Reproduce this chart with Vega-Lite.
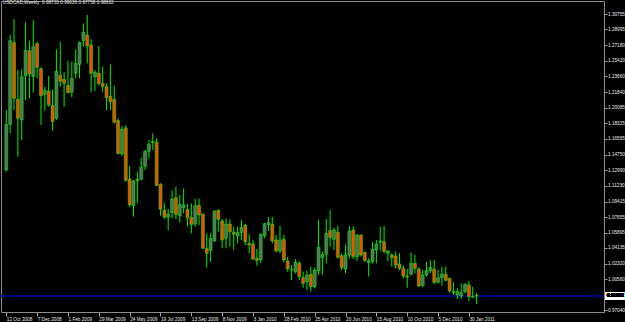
{
  "$schema": "https://vega.github.io/schema/vega-lite/v6.json",
  "width": 603,
  "height": 311,
  "autosize": {"type": "none"},
  "padding": {"left": 1, "top": 1, "right": 21, "bottom": 10},
  "background": "black",
  "config": {
    "view": {"stroke": "#8c8c8c", "strokeWidth": 1, "fill": "black"},
    "axis": {"grid": false, "domain": false, "labelFont": "Liberation Sans", "labelFontSize": 4.7, "labelColor": "#e8e8e8", "tickColor": "#a0a0a0", "labelOverlap": false, "labelFlush": false, "labelBound": false}
  },
  "title": {"text": "USDCAD,Weekly\u00a0 0.98733 0.99026 0.97758 0.98662", "anchor": "start", "frame": "group", "orient": "top", "baseline": "top", "offset": -4, "dx": 2, "fontSize": 4.7, "font": "Liberation Sans", "fontWeight": "normal", "color": "#e8e8e8"},
  "data": {"values": [
    {"d":"2008-10-12","o":1.1301,"h":1.1983,"l":1.1282,"c":1.1820},
    {"d":"2008-10-19","o":1.1820,"h":1.2837,"l":1.1718,"c":1.2772},
    {"d":"2008-10-26","o":1.2753,"h":1.3019,"l":1.1983,"c":1.2116},
    {"d":"2008-11-02","o":1.2105,"h":1.2438,"l":1.1452,"c":1.1889},
    {"d":"2008-11-09","o":1.1870,"h":1.2446,"l":1.1642,"c":1.2363},
    {"d":"2008-11-16","o":1.2374,"h":1.2981,"l":1.2097,"c":1.2662},
    {"d":"2008-11-23","o":1.2658,"h":1.2772,"l":1.2116,"c":1.2393},
    {"d":"2008-11-30","o":1.2363,"h":1.3007,"l":1.2181,"c":1.2704},
    {"d":"2008-12-07","o":1.2738,"h":1.2761,"l":1.2344,"c":1.2469},
    {"d":"2008-12-14","o":1.2454,"h":1.2469,"l":1.1813,"c":1.2146},
    {"d":"2008-12-21","o":1.2162,"h":1.2249,"l":1.1976,"c":1.2207},
    {"d":"2008-12-28","o":1.2200,"h":1.2370,"l":1.2021,"c":1.2040},
    {"d":"2009-01-04","o":1.2036,"h":1.2219,"l":1.1748,"c":1.1851},
    {"d":"2009-01-11","o":1.1889,"h":1.2674,"l":1.1870,"c":1.2423},
    {"d":"2009-01-18","o":1.2378,"h":1.2761,"l":1.2249,"c":1.2310},
    {"d":"2009-01-25","o":1.2332,"h":1.2412,"l":1.2021,"c":1.2287},
    {"d":"2009-02-01","o":1.2264,"h":1.2545,"l":1.2173,"c":1.2181},
    {"d":"2009-02-08","o":1.2184,"h":1.2533,"l":1.2127,"c":1.2344},
    {"d":"2009-02-15","o":1.2401,"h":1.2674,"l":1.2344,"c":1.2514},
    {"d":"2009-02-22","o":1.2503,"h":1.2761,"l":1.2344,"c":1.2753},
    {"d":"2009-03-01","o":1.2772,"h":1.2969,"l":1.2704,"c":1.2867},
    {"d":"2009-03-08","o":1.2837,"h":1.3064,"l":1.2514,"c":1.2711},
    {"d":"2009-03-15","o":1.2723,"h":1.2787,"l":1.2184,"c":1.2401},
    {"d":"2009-03-22","o":1.2363,"h":1.2438,"l":1.2200,"c":1.2412},
    {"d":"2009-03-29","o":1.2401,"h":1.2711,"l":1.2268,"c":1.2283},
    {"d":"2009-04-05","o":1.2287,"h":1.2476,"l":1.2192,"c":1.2253},
    {"d":"2009-04-12","o":1.2249,"h":1.2287,"l":1.1983,"c":1.2124},
    {"d":"2009-04-19","o":1.2139,"h":1.2503,"l":1.1983,"c":1.2078},
    {"d":"2009-04-26","o":1.2105,"h":1.2260,"l":1.1832,"c":1.1843},
    {"d":"2009-05-03","o":1.1862,"h":1.1889,"l":1.1483,"c":1.1487},
    {"d":"2009-05-10","o":1.1483,"h":1.1801,"l":1.1464,"c":1.1767},
    {"d":"2009-05-17","o":1.1779,"h":1.1813,"l":1.1168,"c":1.1183},
    {"d":"2009-05-24","o":1.1198,"h":1.1346,"l":1.0876,"c":1.0903},
    {"d":"2009-05-31","o":1.0895,"h":1.1187,"l":1.0770,"c":1.1176},
    {"d":"2009-06-07","o":1.1195,"h":1.1282,"l":1.0922,"c":1.1179},
    {"d":"2009-06-14","o":1.1195,"h":1.1441,"l":1.1187,"c":1.1331},
    {"d":"2009-06-21","o":1.1343,"h":1.1528,"l":1.1301,"c":1.1513},
    {"d":"2009-06-28","o":1.1513,"h":1.1642,"l":1.1434,"c":1.1593},
    {"d":"2009-07-05","o":1.1612,"h":1.1718,"l":1.1528,"c":1.1627},
    {"d":"2009-07-12","o":1.1616,"h":1.1661,"l":1.1119,"c":1.1123},
    {"d":"2009-07-19","o":1.1138,"h":1.1149,"l":1.0781,"c":1.0853},
    {"d":"2009-07-26","o":1.0846,"h":1.0922,"l":1.0740,"c":1.0765},
    {"d":"2009-08-02","o":1.0762,"h":1.0857,"l":1.0618,"c":1.0800},
    {"d":"2009-08-09","o":1.0815,"h":1.1069,"l":1.0751,"c":1.0971},
    {"d":"2009-08-16","o":1.0986,"h":1.1111,"l":1.0743,"c":1.0796},
    {"d":"2009-08-23","o":1.0781,"h":1.1016,"l":1.0705,"c":1.0910},
    {"d":"2009-08-30","o":1.0872,"h":1.1092,"l":1.0808,"c":1.0903},
    {"d":"2009-09-06","o":1.0853,"h":1.0914,"l":1.0656,"c":1.0759},
    {"d":"2009-09-13","o":1.0762,"h":1.0922,"l":1.0580,"c":1.0683},
    {"d":"2009-09-20","o":1.0686,"h":1.0971,"l":1.0656,"c":1.0895},
    {"d":"2009-09-27","o":1.0899,"h":1.0978,"l":1.0675,"c":1.0789},
    {"d":"2009-10-04","o":1.0796,"h":1.0808,"l":1.0402,"c":1.0410},
    {"d":"2009-10-11","o":1.0410,"h":1.0580,"l":1.0190,"c":1.0353},
    {"d":"2009-10-18","o":1.0383,"h":1.0580,"l":1.0258,"c":1.0523},
    {"d":"2009-10-25","o":1.0493,"h":1.0842,"l":1.0485,"c":1.0834},
    {"d":"2009-11-01","o":1.0842,"h":1.0853,"l":1.0599,"c":1.0740},
    {"d":"2009-11-08","o":1.0721,"h":1.0743,"l":1.0410,"c":1.0504},
    {"d":"2009-11-15","o":1.0523,"h":1.0751,"l":1.0410,"c":1.0686},
    {"d":"2009-11-22","o":1.0686,"h":1.0740,"l":1.0429,"c":1.0599},
    {"d":"2009-11-29","o":1.0592,"h":1.0656,"l":1.0391,"c":1.0569},
    {"d":"2009-12-06","o":1.0550,"h":1.0656,"l":1.0467,"c":1.0588},
    {"d":"2009-12-13","o":1.0592,"h":1.0732,"l":1.0504,"c":1.0649},
    {"d":"2009-12-20","o":1.0675,"h":1.0690,"l":1.0448,"c":1.0485},
    {"d":"2009-12-27","o":1.0467,"h":1.0569,"l":1.0353,"c":1.0448},
    {"d":"2010-01-03","o":1.0459,"h":1.0504,"l":1.0277,"c":1.0288},
    {"d":"2010-01-10","o":1.0296,"h":1.0402,"l":1.0212,"c":1.0273},
    {"d":"2010-01-17","o":1.0281,"h":1.0580,"l":1.0239,"c":1.0569},
    {"d":"2010-01-24","o":1.0554,"h":1.0698,"l":1.0523,"c":1.0690},
    {"d":"2010-01-31","o":1.0679,"h":1.0766,"l":1.0607,"c":1.0702},
    {"d":"2010-02-07","o":1.0683,"h":1.0766,"l":1.0467,"c":1.0493},
    {"d":"2010-02-14","o":1.0504,"h":1.0561,"l":1.0364,"c":1.0379},
    {"d":"2010-02-21","o":1.0379,"h":1.0668,"l":1.0353,"c":1.0504},
    {"d":"2010-02-28","o":1.0512,"h":1.0561,"l":1.0250,"c":1.0277},
    {"d":"2010-03-07","o":1.0266,"h":1.0315,"l":1.0144,"c":1.0175},
    {"d":"2010-03-14","o":1.0163,"h":1.0220,"l":1.0049,"c":1.0167},
    {"d":"2010-03-21","o":1.0144,"h":1.0288,"l":1.0125,"c":1.0250},
    {"d":"2010-03-28","o":1.0239,"h":1.0266,"l":1.0049,"c":1.0087},
    {"d":"2010-04-04","o":1.0076,"h":1.0144,"l":0.9962,"c":1.0011},
    {"d":"2010-04-11","o":1.0030,"h":1.0156,"l":0.9936,"c":1.0106},
    {"d":"2010-04-18","o":1.0114,"h":1.0201,"l":0.9917,"c":0.9974},
    {"d":"2010-04-25","o":0.9974,"h":1.0190,"l":0.9955,"c":1.0163},
    {"d":"2010-05-02","o":1.0152,"h":1.0732,"l":1.0106,"c":1.0421},
    {"d":"2010-05-09","o":1.0303,"h":1.0372,"l":1.0106,"c":1.0341},
    {"d":"2010-05-16","o":1.0341,"h":1.0743,"l":1.0239,"c":1.0580},
    {"d":"2010-05-23","o":1.0611,"h":1.0846,"l":1.0429,"c":1.0531},
    {"d":"2010-05-30","o":1.0512,"h":1.0645,"l":1.0391,"c":1.0618},
    {"d":"2010-06-06","o":1.0592,"h":1.0667,"l":1.0296,"c":1.0307},
    {"d":"2010-06-13","o":1.0326,"h":1.0353,"l":1.0163,"c":1.0190},
    {"d":"2010-06-20","o":1.0174,"h":1.0455,"l":1.0125,"c":1.0334},
    {"d":"2010-06-27","o":1.0334,"h":1.0664,"l":1.0296,"c":1.0607},
    {"d":"2010-07-04","o":1.0618,"h":1.0664,"l":1.0288,"c":1.0315},
    {"d":"2010-07-11","o":1.0315,"h":1.0569,"l":1.0265,"c":1.0561},
    {"d":"2010-07-18","o":1.0561,"h":1.0569,"l":1.0315,"c":1.0334},
    {"d":"2010-07-25","o":1.0364,"h":1.0372,"l":1.0258,"c":1.0269},
    {"d":"2010-08-01","o":1.0247,"h":1.0296,"l":1.0087,"c":1.0269},
    {"d":"2010-08-08","o":1.0258,"h":1.0485,"l":1.0239,"c":1.0398},
    {"d":"2010-08-15","o":1.0391,"h":1.0504,"l":1.0239,"c":1.0459},
    {"d":"2010-08-22","o":1.0478,"h":1.0656,"l":1.0379,"c":1.0493},
    {"d":"2010-08-29","o":1.0485,"h":1.0664,"l":1.0353,"c":1.0372},
    {"d":"2010-09-05","o":1.0353,"h":1.0391,"l":1.0265,"c":1.0379},
    {"d":"2010-09-12","o":1.0334,"h":1.0353,"l":1.0201,"c":1.0303},
    {"d":"2010-09-19","o":1.0322,"h":1.0372,"l":1.0182,"c":1.0220},
    {"d":"2010-09-26","o":1.0231,"h":1.0353,"l":1.0163,"c":1.0182},
    {"d":"2010-10-03","o":1.0182,"h":1.0212,"l":1.0068,"c":1.0095},
    {"d":"2010-10-10","o":1.0095,"h":1.0174,"l":0.9962,"c":1.0083},
    {"d":"2010-10-17","o":1.0114,"h":1.0364,"l":1.0099,"c":1.0239},
    {"d":"2010-10-24","o":1.0239,"h":1.0334,"l":1.0125,"c":1.0182},
    {"d":"2010-10-31","o":1.0174,"h":1.0190,"l":0.9970,"c":0.9981},
    {"d":"2010-11-07","o":0.9985,"h":1.0163,"l":0.9973,"c":1.0106},
    {"d":"2010-11-14","o":1.0106,"h":1.0258,"l":1.0087,"c":1.0156},
    {"d":"2010-11-21","o":1.0152,"h":1.0273,"l":1.0125,"c":1.0193},
    {"d":"2010-11-28","o":1.0174,"h":1.0277,"l":1.0000,"c":1.0023},
    {"d":"2010-12-05","o":1.0023,"h":1.0163,"l":1.0011,"c":1.0076},
    {"d":"2010-12-12","o":1.0076,"h":1.0201,"l":0.9985,"c":1.0118},
    {"d":"2010-12-19","o":1.0114,"h":1.0201,"l":1.0038,"c":1.0046},
    {"d":"2010-12-26","o":1.0068,"h":1.0076,"l":0.9909,"c":0.9924},
    {"d":"2011-01-02","o":0.9917,"h":1.0023,"l":0.9879,"c":0.9909},
    {"d":"2011-01-09","o":0.9879,"h":0.9955,"l":0.9833,"c":0.9917},
    {"d":"2011-01-16","o":0.9867,"h":1.0011,"l":0.9833,"c":0.9909},
    {"d":"2011-01-23","o":0.9917,"h":1.0011,"l":0.9898,"c":1.0000},
    {"d":"2011-01-30","o":0.9992,"h":1.0038,"l":0.9810,"c":0.9860},
    {"d":"2011-02-06","o":0.9852,"h":0.9973,"l":0.9848,"c":0.9860},
    {"d":"2011-02-13","o":0.98733,"h":0.99026,"l":0.97758,"c":0.98662}
  ]},
  "layer": [
    {
      "mark": {"type": "rule", "color": "#00007e", "strokeWidth": 1},
      "encoding": {"y": {"datum": 0.98662, "type": "quantitative", "scale": {"domain": [0.96853, 1.32234], "nice": false, "zero": false},
        "axis": {"orient": "right", "values": [0.9704, 1.0056, 1.0232, 1.04135, 1.05895, 1.07655, 1.09415, 1.1123, 1.1299, 1.1475, 1.16565, 1.18325, 1.20085, 1.2184, 1.2366, 1.2542, 1.2718, 1.28995, 1.30755], "labelExpr": "format(datum.value, '.5f')", "title": null, "labelPadding": 0.5, "tickSize": 3}}}
    },
    {
      "mark": {"type": "rule", "color": "#00f000", "strokeWidth": 1},
      "encoding": {
        "x": {"field": "d", "type": "temporal",
          "scale": {"type": "utc", "domain": [{"year": 2008, "month": 10, "date": 11, "hours": 11, "minutes": 9, "utc": true}, {"year": 2011, "month": 9, "date": 23, "hours": 6, "utc": true}]},
          "axis": {"values": [
            {"year": 2008, "month": 10, "date": 12, "utc": true},
            {"year": 2008, "month": 12, "date": 7, "utc": true},
            {"year": 2009, "month": 2, "date": 1, "utc": true},
            {"year": 2009, "month": 3, "date": 29, "utc": true},
            {"year": 2009, "month": 5, "date": 24, "utc": true},
            {"year": 2009, "month": 7, "date": 19, "utc": true},
            {"year": 2009, "month": 9, "date": 13, "utc": true},
            {"year": 2009, "month": 11, "date": 8, "utc": true},
            {"year": 2010, "month": 1, "date": 3, "utc": true},
            {"year": 2010, "month": 2, "date": 28, "utc": true},
            {"year": 2010, "month": 4, "date": 25, "utc": true},
            {"year": 2010, "month": 6, "date": 20, "utc": true},
            {"year": 2010, "month": 8, "date": 15, "utc": true},
            {"year": 2010, "month": 10, "date": 10, "utc": true},
            {"year": 2010, "month": 12, "date": 5, "utc": true},
            {"year": 2011, "month": 1, "date": 30, "utc": true}
          ],
          "labelExpr": "utcFormat(datum.value, '%-d %b %Y')", "title": null,
          "labelAlign": "left", "labelBaseline": "top", "labelPadding": 0, "labelDx": 1, "tickSize": 4}},
        "y": {"field": "l", "type": "quantitative",
          "scale": {"domain": [0.96853, 1.32234], "nice": false, "zero": false},
          "axis": {"orient": "right", "values": [0.9704, 1.0056, 1.0232, 1.04135, 1.05895, 1.07655, 1.09415, 1.1123, 1.1299, 1.1475, 1.16565, 1.18325, 1.20085, 1.2184, 1.2366, 1.2542, 1.2718, 1.28995, 1.30755], "labelExpr": "format(datum.value, '.5f')", "title": null, "labelPadding": 0.5, "tickSize": 3}},
        "y2": {"field": "h"}
      }
    },
    {
      "mark": {"type": "bar", "width": 3, "stroke": "#00ff00", "strokeWidth": 0.5},
      "encoding": {
        "x": {"field": "d", "type": "temporal",
          "scale": {"type": "utc", "domain": [{"year": 2008, "month": 10, "date": 11, "hours": 11, "minutes": 9, "utc": true}, {"year": 2011, "month": 9, "date": 23, "hours": 6, "utc": true}]},
          "axis": {"values": [
            {"year": 2008, "month": 10, "date": 12, "utc": true},
            {"year": 2008, "month": 12, "date": 7, "utc": true},
            {"year": 2009, "month": 2, "date": 1, "utc": true},
            {"year": 2009, "month": 3, "date": 29, "utc": true},
            {"year": 2009, "month": 5, "date": 24, "utc": true},
            {"year": 2009, "month": 7, "date": 19, "utc": true},
            {"year": 2009, "month": 9, "date": 13, "utc": true},
            {"year": 2009, "month": 11, "date": 8, "utc": true},
            {"year": 2010, "month": 1, "date": 3, "utc": true},
            {"year": 2010, "month": 2, "date": 28, "utc": true},
            {"year": 2010, "month": 4, "date": 25, "utc": true},
            {"year": 2010, "month": 6, "date": 20, "utc": true},
            {"year": 2010, "month": 8, "date": 15, "utc": true},
            {"year": 2010, "month": 10, "date": 10, "utc": true},
            {"year": 2010, "month": 12, "date": 5, "utc": true},
            {"year": 2011, "month": 1, "date": 30, "utc": true}
          ],
          "labelExpr": "utcFormat(datum.value, '%-d %b %Y')", "title": null,
          "labelAlign": "left", "labelBaseline": "top", "labelPadding": 0, "labelDx": 1, "tickSize": 4}},
        "y": {"field": "o", "type": "quantitative",
          "scale": {"domain": [0.96853, 1.32234], "nice": false, "zero": false},
          "axis": {"orient": "right", "values": [0.9704, 1.0056, 1.0232, 1.04135, 1.05895, 1.07655, 1.09415, 1.1123, 1.1299, 1.1475, 1.16565, 1.18325, 1.20085, 1.2184, 1.2366, 1.2542, 1.2718, 1.28995, 1.30755], "labelExpr": "format(datum.value, '.5f')", "title": null, "labelPadding": 0.5, "tickSize": 3}},
        "y2": {"field": "c"},
        "fill": {"condition": {"test": "datum.c < datum.o", "value": "#ff4500"}, "value": "#5a6e64"}
      }
    },
    {
      "mark": {"type": "point", "shape": "M-1,-0.35H1V0.35H-1Z", "size": 400, "filled": true, "color": "white", "opacity": 1, "xOffset": 11.5},
      "encoding": {"x": {"value": "width"}, "y": {"datum": 0.98662, "type": "quantitative",
        "axis": {"orient": "right", "values": [0.9704, 1.0056, 1.0232, 1.04135, 1.05895, 1.07655, 1.09415, 1.1123, 1.1299, 1.1475, 1.16565, 1.18325, 1.20085, 1.2184, 1.2366, 1.2542, 1.2718, 1.28995, 1.30755], "labelExpr": "format(datum.value, '.5f')", "title": null, "labelPadding": 0.5, "tickSize": 3}}}
    },
    {
      "mark": {"type": "text", "color": "black", "font": "Liberation Sans", "fontSize": 4.7, "align": "center", "baseline": "middle", "xOffset": 11.5},
      "encoding": {"x": {"value": "width"}, "y": {"datum": 0.98662, "type": "quantitative",
        "axis": {"orient": "right", "values": [0.9704, 1.0056, 1.0232, 1.04135, 1.05895, 1.07655, 1.09415, 1.1123, 1.1299, 1.1475, 1.16565, 1.18325, 1.20085, 1.2184, 1.2366, 1.2542, 1.2718, 1.28995, 1.30755], "labelExpr": "format(datum.value, '.5f')", "title": null, "labelPadding": 0.5, "tickSize": 3}}, "text": {"value": "0.98662"}}
    }
  ]
}
